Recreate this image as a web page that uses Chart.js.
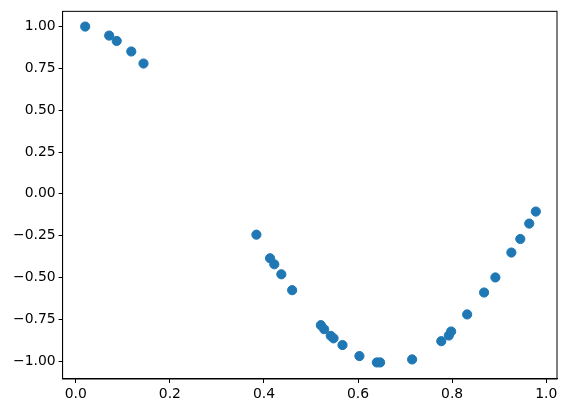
<!DOCTYPE html>
<html>
<head>
<meta charset="utf-8">
<script src="https://cdn.jsdelivr.net/npm/chart.js@4/dist/chart.umd.min.js"></script>
<style>
  html, body { margin: 0; padding: 0; background: #fff; }
  #wrap { width: 568px; height: 413px; }
</style>
</head>
<body>
<div id="wrap"><canvas id="chart"></canvas></div>
<script>
// точки
const xValues = [0.020, 0.071, 0.087, 0.118, 0.144,
  0.384, 0.413, 0.422, 0.437, 0.460, 0.521, 0.528, 0.542, 0.548, 0.567,
  0.603, 0.640, 0.647, 0.715, 0.777, 0.793, 0.798, 0.832, 0.868, 0.892,
  0.926, 0.945, 0.964, 0.978];
const yValues = [1.000, 0.946, 0.914, 0.851, 0.779,
  -0.244, -0.385, -0.421, -0.481, -0.576, -0.785, -0.809, -0.849, -0.864, -0.904,
  -0.970, -1.008, -1.008, -0.990, -0.881, -0.847, -0.823, -0.721, -0.590, -0.500,
  -0.351, -0.270, -0.178, -0.106];
const xTicks = [0.0, 0.2, 0.4, 0.6, 0.8, 1.0];
const yTicks = [-1.0, -0.75, -0.5, -0.25, 0.0, 0.25, 0.5, 0.75, 1.0];

const points = xValues.map((x, i) => ({ x: x, y: yValues[i] }));
const fmt = (v, d) => (v < 0 ? '\u2212' : '') + Math.abs(v).toFixed(d);
const font = { family: 'DejaVu Sans', size: 13.9 };

// рамка вокруг области графика
const frame = {
  id: 'frame',
  afterDraw(chart) {
    const a = chart.chartArea, ctx = chart.ctx;
    ctx.save();
    ctx.strokeStyle = '#000';
    ctx.lineWidth = 1;
    ctx.strokeRect(a.left, a.top, a.right - a.left, a.bottom - a.top);
    ctx.restore();
  }
};

new Chart(document.getElementById('chart'), {
  type: 'scatter',
  data: {
    datasets: [{
      data: points,
      backgroundColor: '#1f77b4',
      borderColor: '#1f77b4',
      pointRadius: 4.6,
      pointHoverRadius: 4.6
    }]
  },
  options: {
    responsive: true,
    maintainAspectRatio: false,
    animation: false,
    layout: { padding: { top: 10.7, right: 11, left: 0, bottom: 0 } },
    plugins: { legend: { display: false }, tooltip: { enabled: false } },
    scales: {
      x: {
        type: 'linear',
        min: -0.028,
        max: 1.023,
        afterBuildTicks: s => { s.ticks = xTicks.map(v => ({ value: v })); },
        afterFit: s => { s.height = 34; },
        grid: { drawOnChartArea: false, tickLength: 4, tickColor: '#000' },
        border: { color: '#000', width: 1 },
        ticks: { color: '#000', font: font, padding: 3, maxRotation: 0,
          callback: v => fmt(v, 1) }
      },
      y: {
        type: 'linear',
        min: -1.107,
        max: 1.091,
        afterBuildTicks: s => { s.ticks = yTicks.map(v => ({ value: v })); },
        afterFit: s => { s.width = 62.6; },
        grid: { drawOnChartArea: false, tickLength: 4, tickColor: '#000' },
        border: { color: '#000', width: 1 },
        ticks: { color: '#000', font: font, padding: 3,
          callback: v => fmt(v, 2) }
      }
    }
  },
  plugins: [frame]
});
</script>
</body>
</html>
